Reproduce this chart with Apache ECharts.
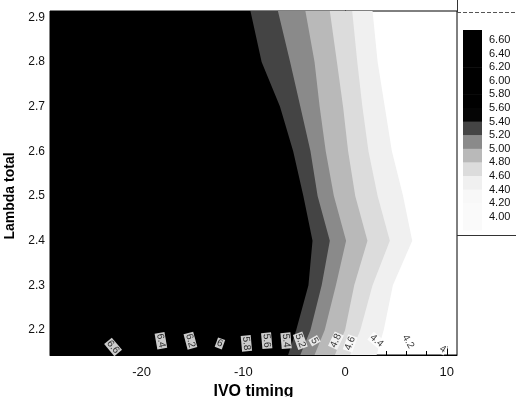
<!DOCTYPE html>
<html>
<head>
<meta charset="utf-8">
<script src="https://cdn.jsdelivr.net/npm/echarts@6/dist/echarts.min.js"></script>
<style>
  html, body { margin: 0; padding: 0; background: #fff; }
  #chart { width: 516px; height: 397px; }
</style>
</head>
<body>
<div id="chart"></div>
<script>
// Lambda total rows at which every contour's IVO timing crossing is listed
const lambdaRows = [2.144, 2.2, 2.3, 2.4, 2.5, 2.6, 2.7, 2.8, 2.914];

// IVO timing of each contour level, one entry per lambda row (bottom to top)
const contour54 = [-5.6, -4.8, -3.6, -3.2, -4.1, -5.1, -6.4, -8.2, -9.3];
const contour52 = [-4.4, -3.4, -2.3, -1.5, -2.7, -3.4, -4.4, -5.4, -6.6];
const contour50 = [-3.0, -2.0, -0.9, 0.1, -1.1, -1.9, -2.5, -3.0, -3.9];
const contour48 = [-1.0, 0.0, 0.9, 2.2, 1.0, 0.3, -0.2, -0.8, -1.5];
const contour46 = [0.5, 1.5, 2.7, 4.4, 3.2, 2.3, 1.7, 1.2, 0.7];
const contour44 = [3.1, 3.8, 4.7, 6.6, 5.7, 4.6, 3.9, 3.2, 2.7];

// filled regions: everything at or above each level, darkest last
const fillLevels = [5.4, 5.2, 5.0, 4.8, 4.6, 4.4];
const fillLines = [contour54, contour52, contour50, contour48, contour46, contour44];
const fillColors = ['#000000', '#444444', '#8a8a8a', '#b9b9b9', '#dcdcdc', '#f0f0f0'];

// legend levels and the shade of each band (above 6.60 ... below 4.00)
const legendLevels = [6.6, 6.4, 6.2, 6.0, 5.8, 5.6, 5.4, 5.2, 5.0, 4.8, 4.6, 4.4, 4.2, 4.0];
const legendColors = ['#000000', '#000000', '#000000', '#000000', '#000000', '#000000', '#050505',
  '#444444', '#8a8a8a', '#b9b9b9', '#dcdcdc', '#f0f0f0', '#f8f8f8', '#fafafa', '#fafafa'];

// in-line contour labels near the bottom of the field
const labelLevels = [6.6, 6.4, 6.2, 6.0, 5.8, 5.6, 5.4, 5.2, 5.0, 4.8, 4.6, 4.4, 4.2, 4.0];
const labelIvo = [-22.8, -18.1, -15.2, -12.3, -9.7, -7.7, -5.8, -4.4, -3.0, -0.9, 0.5, 3.1, 6.2, 9.6];
const labelLambda = [2.162, 2.176, 2.176, 2.17, 2.17, 2.176, 2.176, 2.176, 2.176, 2.176, 2.17, 2.176, 2.174, 2.157];
const labelTilt = [-50, -80, -75, -20, -85, -85, -85, -70, -60, 65, 70, -40, -60, -30];

// axis ticks
const xTicks = [-20, -10, 0, 10];
const xMinorTicks = [-28, -26, -24, -22, -20, -18, -16, -14, -12, -10, -8, -6, -4, -2, 0, 2, 4, 6, 8, 10];
const yTicks = [2.2, 2.3, 2.4, 2.5, 2.6, 2.7, 2.8, 2.9];

const X_MIN = -29, X_MAX = 11, Y_MIN = 2.144, Y_MAX = 2.914;
const FONT = 'Arial, "Liberation Sans", sans-serif';

const chart = echarts.init(document.getElementById('chart'), null, { renderer: 'canvas' });

// fill order: lightest (widest) region first so darker regions sit on top
const fillOrder = fillLevels.map((_, i) => i).reverse();

function renderBand(params, api) {
  const idx = fillOrder[params.dataIndex];
  const line = fillLines[idx];
  const pts = [];
  pts.push(api.coord([X_MIN, lambdaRows[0]]));
  for (let r = 0; r < lambdaRows.length; r++) {
    pts.push(api.coord([line[r], lambdaRows[r]]));
  }
  pts.push(api.coord([X_MIN, lambdaRows[lambdaRows.length - 1]]));
  return {
    type: 'polygon',
    shape: { points: pts },
    style: { fill: fillColors[idx], stroke: null }
  };
}

// legend bar geometry
const LEG_X = 463, LEG_W = 19, LEG_TOP = 30, LEG_BOTTOM = 230, LEG_FIRST = 40, LEG_STEP = 13.6;
const legendGraphics = [];
for (let j = 0; j <= legendLevels.length; j++) {
  const y0 = j === 0 ? LEG_TOP : LEG_FIRST + (j - 1) * LEG_STEP;
  const y1 = j === legendLevels.length ? LEG_BOTTOM : LEG_FIRST + j * LEG_STEP;
  legendGraphics.push({
    type: 'rect',
    shape: { x: LEG_X, y: y0, width: LEG_W, height: y1 - y0 + 0.5 },
    style: { fill: legendColors[j] }
  });
}
legendLevels.forEach((lv, k) => {
  legendGraphics.push({
    type: 'text',
    x: 489, y: LEG_FIRST + k * LEG_STEP,
    style: { text: lv.toFixed(2), fill: '#111', font: '11px ' + FONT, verticalAlign: 'middle', align: 'left' }
  });
});
legendGraphics.push(
  { type: 'line', shape: { x1: 457, y1: 12.5, x2: 516, y2: 12.5 }, style: { stroke: '#555', lineWidth: 1, lineDash: [4, 2] } },
  { type: 'line', shape: { x1: 457, y1: 235.5, x2: 516, y2: 235.5 }, style: { stroke: '#333', lineWidth: 1 } },
  { type: 'line', shape: { x1: 457.5, y1: 0, x2: 457.5, y2: 12 }, style: { stroke: '#333', lineWidth: 1 } }
);

const option = {
  animation: false,
  backgroundColor: '#fff',
  grid: {
    left: 50, right: 59, top: 11, bottom: 42,
    outerBoundsMode: 'none', containLabel: false,
    show: true, borderColor: '#000', borderWidth: 1, backgroundColor: '#fff', z: 0
  },
  xAxis: [{
    type: 'value', min: X_MIN, max: X_MAX,
    name: 'IVO timing', nameLocation: 'middle', nameGap: 25,
    nameTextStyle: { fontFamily: FONT, fontWeight: 'bold', fontSize: 16, color: '#000' },
    axisLine: { show: true, lineStyle: { color: '#000' } },
    axisTick: { show: true, inside: true, length: 9, customValues: xTicks, lineStyle: { color: '#000' } },
    axisLabel: { customValues: xTicks, fontFamily: FONT, fontSize: 13, color: '#111', margin: 11 },
    splitLine: { show: false }
  }, {
    type: 'value', min: X_MIN, max: X_MAX, position: 'bottom',
    axisLine: { show: false },
    axisTick: { show: true, inside: true, length: 4, customValues: xMinorTicks, lineStyle: { color: '#000' } },
    axisLabel: { show: false },
    splitLine: { show: false }
  }],
  yAxis: {
    type: 'value', min: Y_MIN, max: Y_MAX,
    name: 'Lambda total', nameLocation: 'middle', nameGap: 29, nameRotate: 90,
    nameTextStyle: { fontFamily: FONT, fontWeight: 'bold', fontSize: 14, color: '#000', padding: [0, 26, 0, 0] },
    axisLine: { show: true, lineStyle: { color: '#000' } },
    axisTick: { show: true, inside: true, length: 6, customValues: yTicks, lineStyle: { color: '#000' } },
    axisLabel: { customValues: yTicks, fontFamily: FONT, fontSize: 12, color: '#111', margin: 5, formatter: v => v.toFixed(1) },
    splitLine: { show: false }
  },
  graphic: legendGraphics,
  series: [{
    type: 'custom',
    coordinateSystem: 'cartesian2d',
    xAxisIndex: 0,
    clip: true,
    renderItem: renderBand,
    data: fillOrder.map(i => [fillLevels[i], lambdaRows[0]]),
    z: 1,
    silent: true
  }, {
    type: 'scatter',
    xAxisIndex: 0,
    symbolSize: 0,
    z: 5,
    silent: true,
    data: labelLevels.map((lv, i) => ({
      value: [labelIvo[i], labelLambda[i], lv],
      label: { rotate: labelTilt[i] }
    })),
    label: {
      show: true, position: 'inside',
      formatter: p => String(p.value[2]),
      fontFamily: FONT, fontSize: 10, color: '#000',
      backgroundColor: '#fff', padding: [0, 1]
    }
  }]
};

chart.setOption(option);
</script>
</body>
</html>
